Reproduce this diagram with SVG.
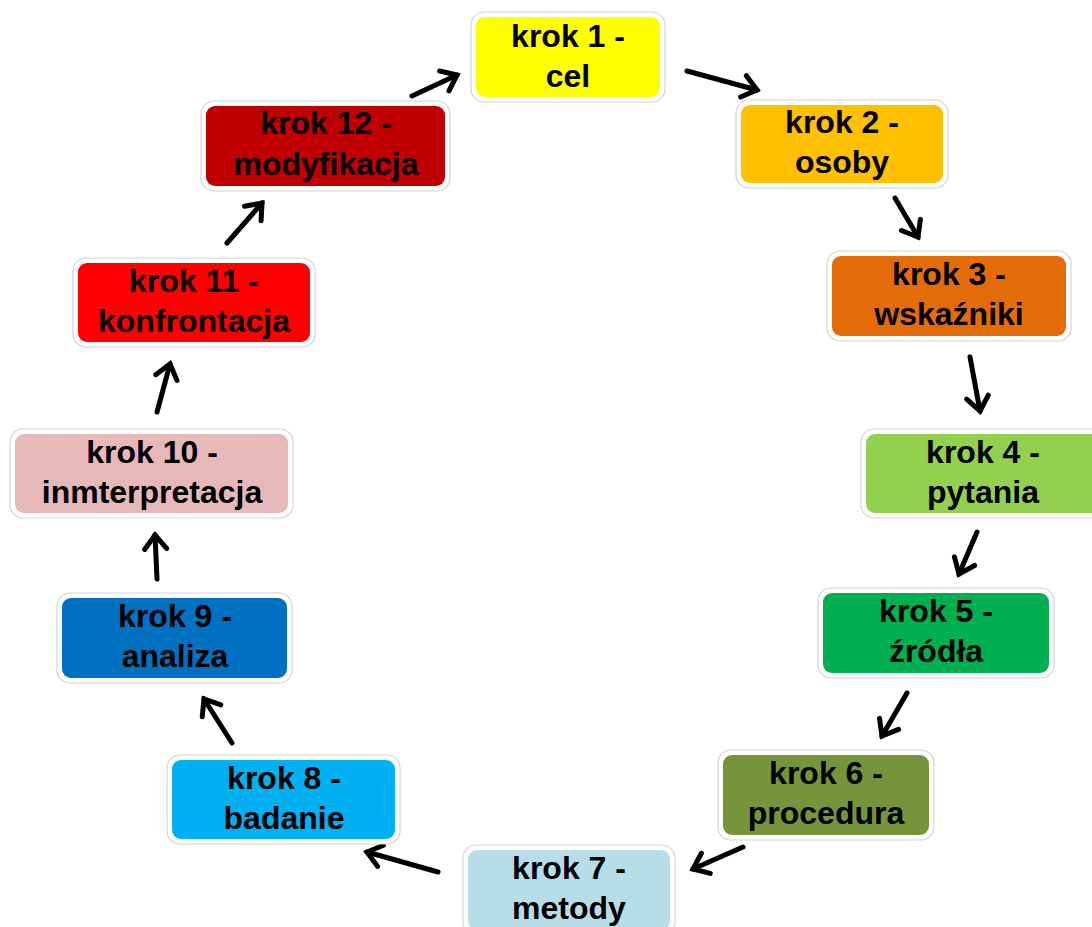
<svg xmlns="http://www.w3.org/2000/svg" width="1092" height="927" viewBox="0 0 1092 927">
<defs>
<style>
.frame{fill:#ffffff;stroke:#d4d4d4;stroke-width:1.2}
.t{font-family:"Liberation Sans",Arial,sans-serif;font-weight:bold;font-size:32px;fill:#000;text-anchor:middle}
.c{fill:none;stroke:#000;stroke-width:5;stroke-linecap:round}
</style>
<marker id="ah" markerUnits="userSpaceOnUse" viewBox="-20 -14 24 28" markerWidth="24" markerHeight="28" refX="0" refY="0" orient="auto">
<path d="M -14 -11 L 0 0 L -14 11" fill="none" stroke="#000" stroke-width="5" stroke-linecap="round" stroke-linejoin="miter"/>
</marker>
</defs>
<rect width="1092" height="927" fill="#ffffff"/>
<g id="connectors">
<line class="c" x1="412" y1="96" x2="457" y2="75" marker-end="url(#ah)"/>
<line class="c" x1="687" y1="71" x2="757" y2="90" marker-end="url(#ah)"/>
<line class="c" x1="895" y1="198" x2="918" y2="237" marker-end="url(#ah)"/>
<line class="c" x1="970" y1="357" x2="980" y2="411" marker-end="url(#ah)"/>
<line class="c" x1="977" y1="532" x2="959" y2="574" marker-end="url(#ah)"/>
<line class="c" x1="907" y1="693" x2="882" y2="736" marker-end="url(#ah)"/>
<line class="c" x1="743" y1="847" x2="693" y2="869" marker-end="url(#ah)"/>
<line class="c" x1="438" y1="872" x2="367" y2="852" marker-end="url(#ah)"/>
<line class="c" x1="232" y1="743" x2="204" y2="699" marker-end="url(#ah)"/>
<line class="c" x1="157" y1="579" x2="155" y2="535" marker-end="url(#ah)"/>
<line class="c" x1="157" y1="412" x2="170" y2="364" marker-end="url(#ah)"/>
<line class="c" x1="227" y1="243" x2="262" y2="203" marker-end="url(#ah)"/>
</g>
<g id="n1">
<rect class="frame" x="471" y="12" width="194" height="90" rx="13"/>
<rect x="476" y="17" width="184" height="80" rx="9" fill="#FFFF00"/>
<text class="t" x="568" y="47">krok 1 -</text>
<text class="t" x="568" y="87">cel</text>
</g>
<g id="n2">
<rect class="frame" x="736" y="100" width="212" height="88" rx="13"/>
<rect x="741" y="105" width="202" height="78" rx="9" fill="#FFC000"/>
<text class="t" x="842" y="133">krok 2 -</text>
<text class="t" x="842" y="173">osoby</text>
</g>
<g id="n3">
<rect class="frame" x="827" y="251" width="244" height="90" rx="13"/>
<rect x="832" y="256" width="234" height="80" rx="9" fill="#E36C09"/>
<text class="t" x="949" y="285">krok 3 -</text>
<text class="t" x="949" y="325">wskaźniki</text>
</g>
<g id="n4">
<rect class="frame" x="861" y="429" width="244" height="89" rx="13"/>
<rect x="866" y="434" width="234" height="79" rx="9" fill="#92D050"/>
<text class="t" x="983" y="463">krok 4 -</text>
<text class="t" x="983" y="503">pytania</text>
</g>
<g id="n5">
<rect class="frame" x="818" y="588" width="236" height="90" rx="13"/>
<rect x="823" y="593" width="226" height="80" rx="9" fill="#00B050"/>
<text class="t" x="936" y="622">krok 5 -</text>
<text class="t" x="936" y="662">źródła</text>
</g>
<g id="n6">
<rect class="frame" x="718" y="750" width="216" height="90" rx="13"/>
<rect x="723" y="755" width="206" height="80" rx="9" fill="#77933C"/>
<text class="t" x="826" y="784">krok 6 -</text>
<text class="t" x="826" y="824">procedura</text>
</g>
<g id="n7">
<rect class="frame" x="463" y="845" width="212" height="90" rx="13"/>
<rect x="468" y="850" width="202" height="80" rx="9" fill="#B7DEE8"/>
<text class="t" x="569" y="879">krok 7 -</text>
<text class="t" x="569" y="919">metody</text>
</g>
<g id="n8">
<rect class="frame" x="167" y="755" width="233" height="89" rx="13"/>
<rect x="172" y="760" width="223" height="79" rx="9" fill="#00B0F0"/>
<text class="t" x="284" y="789">krok 8 -</text>
<text class="t" x="284" y="829">badanie</text>
</g>
<g id="n9">
<rect class="frame" x="57" y="593" width="235" height="90" rx="13"/>
<rect x="62" y="598" width="225" height="80" rx="9" fill="#0070C0"/>
<text class="t" x="175" y="627">krok 9 -</text>
<text class="t" x="175" y="667">analiza</text>
</g>
<g id="n10">
<rect class="frame" x="10" y="429" width="283" height="89" rx="13"/>
<rect x="15" y="434" width="273" height="79" rx="9" fill="#E6B9B8"/>
<text class="t" x="152" y="463">krok 10 -</text>
<text class="t" x="152" y="503">inmterpretacja</text>
</g>
<g id="n11">
<rect class="frame" x="73" y="258" width="242" height="89" rx="13"/>
<rect x="78" y="263" width="232" height="79" rx="9" fill="#FF0000"/>
<text class="t" x="194" y="292">krok 11 -</text>
<text class="t" x="194" y="332">konfrontacja</text>
</g>
<g id="n12">
<rect class="frame" x="201" y="101" width="249" height="90" rx="13"/>
<rect x="206" y="106" width="239" height="80" rx="9" fill="#C00000"/>
<text class="t" x="326" y="134">krok 12 -</text>
<text class="t" x="326" y="175">modyfikacja</text>
</g>
</svg>
